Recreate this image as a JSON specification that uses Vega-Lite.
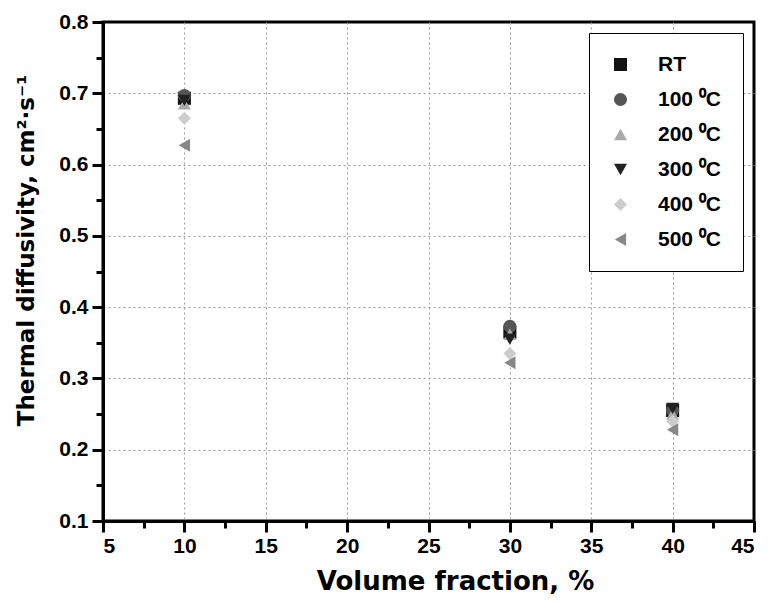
{
  "$schema": "https://vega.github.io/schema/vega-lite/v6.json",
  "width": 651,
  "height": 499,
  "autosize": "none",
  "padding": {"left": 103, "top": 22, "right": 14, "bottom": 80},
  "background": "white",
  "config": {
    "view": {"stroke": "black", "strokeWidth": 3},
    "font": "Liberation Sans"
  },
  "data": {
    "values": [
      {"vf": 10, "td": 0.693, "T": "RT"},
      {"vf": 10, "td": 0.697, "T": "100 ⁰C"},
      {"vf": 10, "td": 0.685, "T": "200 ⁰C"},
      {"vf": 10, "td": 0.690, "T": "300 ⁰C"},
      {"vf": 10, "td": 0.665, "T": "400 ⁰C"},
      {"vf": 10, "td": 0.627, "T": "500 ⁰C"},
      {"vf": 30, "td": 0.365, "T": "RT"},
      {"vf": 30, "td": 0.373, "T": "100 ⁰C"},
      {"vf": 30, "td": 0.362, "T": "200 ⁰C"},
      {"vf": 30, "td": 0.355, "T": "300 ⁰C"},
      {"vf": 30, "td": 0.335, "T": "400 ⁰C"},
      {"vf": 30, "td": 0.322, "T": "500 ⁰C"},
      {"vf": 40, "td": 0.255, "T": "RT"},
      {"vf": 40, "td": 0.255, "T": "100 ⁰C"},
      {"vf": 40, "td": 0.250, "T": "200 ⁰C"},
      {"vf": 40, "td": 0.258, "T": "300 ⁰C"},
      {"vf": 40, "td": 0.240, "T": "400 ⁰C"},
      {"vf": 40, "td": 0.228, "T": "500 ⁰C"}
    ]
  },
  "mark": {"type": "point", "filled": true, "size": 170, "opacity": 1},
  "encoding": {
    "x": {
      "field": "vf", "type": "quantitative",
      "scale": {"domain": [5, 45], "nice": false, "zero": false},
      "axis": {
        "title": "Volume fraction, %",
        "values": [5, 7.5, 10, 12.5, 15, 17.5, 20, 22.5, 25, 27.5, 30, 32.5, 35, 37.5, 40, 42.5, 45],
        "labelExpr": "datum.value % 5 == 0 ? datum.label : ''",
        "labelFontSize": 21, "labelFontWeight": "bold", "labelColor": "black",
        "titleFont": "DejaVu Sans",
        "titleFontSize": 26, "titleFontWeight": "bold", "titleColor": "black", "titlePadding": 12,
        "titleX": 352,
        "domainColor": "black", "domainWidth": 3,
        "tickColor": "black", "tickWidth": 3,
        "tickSize": {"condition": {"test": "datum.value % 5 == 0", "value": 11}, "value": 7},
        "grid": true, "gridColor": "#999", "gridDash": [2, 3], "gridWidth": 1,
        "gridOpacity": {"condition": {"test": "datum.value % 5 == 0 && datum.value > 5 && datum.value < 45", "value": 1}, "value": 0},
        "labelPadding": 3,
        "labelOverlap": false
      }
    },
    "y": {
      "field": "td", "type": "quantitative",
      "scale": {"domain": [0.1, 0.8], "nice": false, "zero": false},
      "axis": {
        "title": "Thermal diffusivity, cm²·s⁻¹",
        "values": [0.1, 0.15, 0.2, 0.25, 0.3, 0.35, 0.4, 0.45, 0.5, 0.55, 0.6, 0.65, 0.7, 0.75, 0.8],
        "labelExpr": "abs(round(datum.value*20) % 2) < 0.5 ? format(datum.value, '.1f') : ''",
        "labelFontSize": 21, "labelFontWeight": "bold", "labelColor": "black",
        "titleFont": "DejaVu Sans",
        "titleFontSize": 23, "titleFontWeight": "bold", "titleColor": "black", "titlePadding": 20,
        "titleY": 228,
        "domainColor": "black", "domainWidth": 3,
        "tickColor": "black", "tickWidth": 3,
        "tickSize": {"condition": {"test": "abs(round(datum.value*20) % 2) < 0.5", "value": 11}, "value": 7},
        "grid": true, "gridColor": "#999", "gridDash": [2, 3], "gridWidth": 1,
        "gridOpacity": {"condition": {"test": "abs(round(datum.value*20) % 2) < 0.5 && datum.value > 0.15 && datum.value < 0.75", "value": 1}, "value": 0},
        "labelPadding": 4,
        "labelOverlap": false
      }
    },
    "shape": {
      "field": "T", "type": "nominal",
      "scale": {
        "domain": ["RT", "100 ⁰C", "200 ⁰C", "300 ⁰C", "400 ⁰C", "500 ⁰C"],
        "range": ["square", "circle", "triangle-up", "triangle-down", "diamond", "triangle-left"]
      },
      "legend": {
        "title": null,
        "orient": "none", "legendX": 486, "legendY": 11,
        "fillColor": "white", "strokeColor": "black",
        "padding": 21, "rowPadding": 13,
        "labelFontSize": 21, "labelFontWeight": "bold", "labelColor": "black",
        "symbolSize": 170, "labelOffset": 27, "labelLimit": 200
      }
    },
    "color": {
      "field": "T", "type": "nominal",
      "scale": {
        "domain": ["RT", "100 ⁰C", "200 ⁰C", "300 ⁰C", "400 ⁰C", "500 ⁰C"],
        "range": ["#111111", "#555555", "#aaaaaa", "#222222", "#cccccc", "#888888"]
      }
    }
  }
}
